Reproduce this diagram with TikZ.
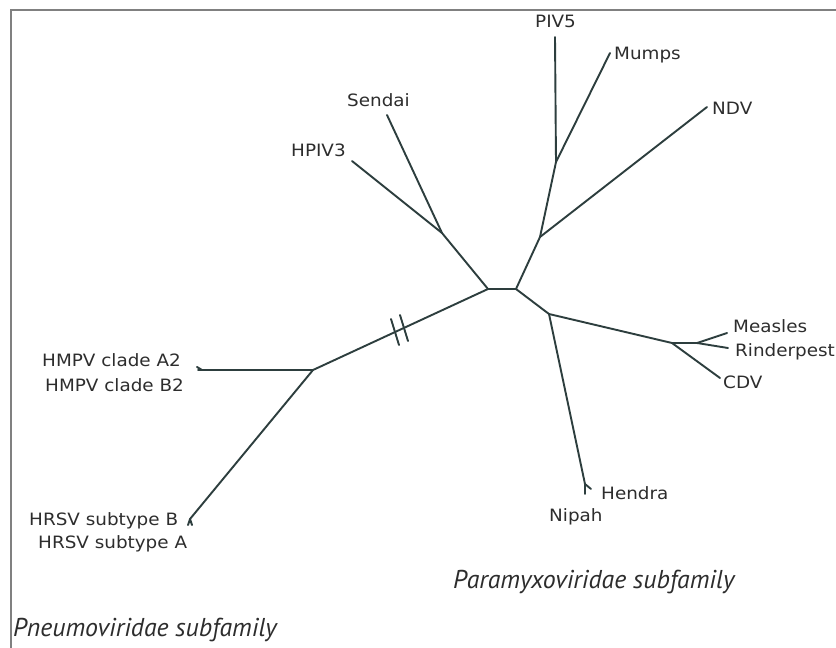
\documentclass[tikz,border=0pt]{standalone}
\usepackage{fontspec}
\setmainfont{DejaVu Sans}[FakeStretch=1.08]
\newfontfamily\famfont{PT Sans}
\definecolor{treecol}{RGB}{45,62,62}
\definecolor{textcol}{RGB}{45,45,45}
\definecolor{framecol}{RGB}{128,128,128}
\begin{document}
\begin{tikzpicture}[x=1pt,y=-1pt,
  branch/.style={draw=treecol,line width=1.9pt,line cap=round,line join=round},
  tiplabel/.style={anchor=base west,inner sep=0pt,text=textcol,font=\fontsize{17}{20}\selectfont},
  famlabel/.style={anchor=base west,inner sep=0pt,text=textcol,font=\famfont\itshape\fontsize{25.8}{30}\selectfont},
  framel/.style={draw=framecol,line width=2.6pt}]
\useasboundingbox (0,0) rectangle (836,648);
\fill[white] (0,0) rectangle (836,648);
% frame
\coordinate (fTL) at (11,10);
\coordinate (fTR) at (836,10);
\coordinate (fBL) at (11,648);
\draw[framel] (fTR) -- (fTL) -- (fBL);
% internal nodes
\coordinate (C1) at (488,289);
\coordinate (C2) at (516,289);
\coordinate (J1) at (313,370);
\coordinate (J2) at (442,233);
\coordinate (J3) at (540,237);
\coordinate (J4) at (556,162);
\coordinate (J5) at (549,314);
\coordinate (J6) at (672,343);
\coordinate (J7) at (697,343);
% tips
\coordinate (tSendai) at (387,115);
\coordinate (tHPIV) at (352,161);
\coordinate (tPIV) at (555,37);
\coordinate (tMumps) at (610,53);
\coordinate (tNDV) at (707,107);
\coordinate (tMeasles) at (727,333);
\coordinate (tRinder) at (728,348);
\coordinate (tCDV) at (720,378);
\coordinate (fHN) at (585,484);
\coordinate (tNipah) at (585,494);
\coordinate (tHendra) at (591,489);
\coordinate (fHM) at (202,370);
\coordinate (tHMA) at (197,367);
\coordinate (tHMB) at (198,370);
\coordinate (fRS) at (190,519);
\coordinate (tRSB) at (188,525);
\coordinate (tRSA) at (192,525);
% branches
\draw[branch] (C1) -- (C2);
\draw[branch] (C1) -- (J1);
\draw[branch] (C1) -- (J2);
\draw[branch] (J2) -- (tSendai);
\draw[branch] (J2) -- (tHPIV);
\draw[branch] (C2) -- (J3);
\draw[branch] (J3) -- (J4);
\draw[branch] (J4) -- (tPIV);
\draw[branch] (J4) -- (tMumps);
\draw[branch] (J3) -- (tNDV);
\draw[branch] (C2) -- (J5);
\draw[branch] (J5) -- (J6);
\draw[branch] (J6) -- (J7);
\draw[branch] (J7) -- (tMeasles);
\draw[branch] (J7) -- (tRinder);
\draw[branch] (J6) -- (tCDV);
\draw[branch] (J5) -- (fHN);
\draw[branch] (fHN) -- (tNipah);
\draw[branch] (fHN) -- (tHendra);
\draw[branch] (J1) -- (fHM);
\draw[branch] (fHM) -- (tHMA);
\draw[branch] (fHM) -- (tHMB);
\draw[branch] (J1) -- (fRS);
\draw[branch] (fRS) -- (tRSB);
\draw[branch] (fRS) -- (tRSA);
% break marks
\coordinate (b1a) at (391,319);
\coordinate (b1b) at (399,345);
\coordinate (b2a) at (400,315);
\coordinate (b2b) at (408,341);
\draw[branch] (b1a) -- (b1b);
\draw[branch] (b2a) -- (b2b);
% labels
\node[tiplabel] (lPIV) at (535,27) {PIV5};
\node[tiplabel] (lMumps) at (614,59) {Mumps};
\node[tiplabel] (lNDV) at (712,114) {NDV};
\node[tiplabel] (lSendai) at (347,106) {Sendai};
\node[tiplabel] (lHPIV) at (291,156) {HPIV3};
\node[tiplabel] (lHMA) at (42,366) {HMPV clade A2};
\node[tiplabel] (lHMB) at (45,391) {HMPV clade B2};
\node[tiplabel] (lRSB) at (29,525) {HRSV subtype B};
\node[tiplabel] (lRSA) at (38,548) {HRSV subtype A};
\node[tiplabel] (lMeasles) at (733,332) {Measles};
\node[tiplabel] (lRinder) at (735,356) {Rinderpest};
\node[tiplabel] (lCDV) at (723,388) {CDV};
\node[tiplabel] (lHendra) at (601,499) {Hendra};
\node[tiplabel] (lNipah) at (549,521) {Nipah};
\node[famlabel] (lPara) at (453,588) {Paramyxoviridae subfamily};
\node[famlabel] (lPneu) at (13,636) {Pneumoviridae subfamily};
\end{tikzpicture}
\end{document}
